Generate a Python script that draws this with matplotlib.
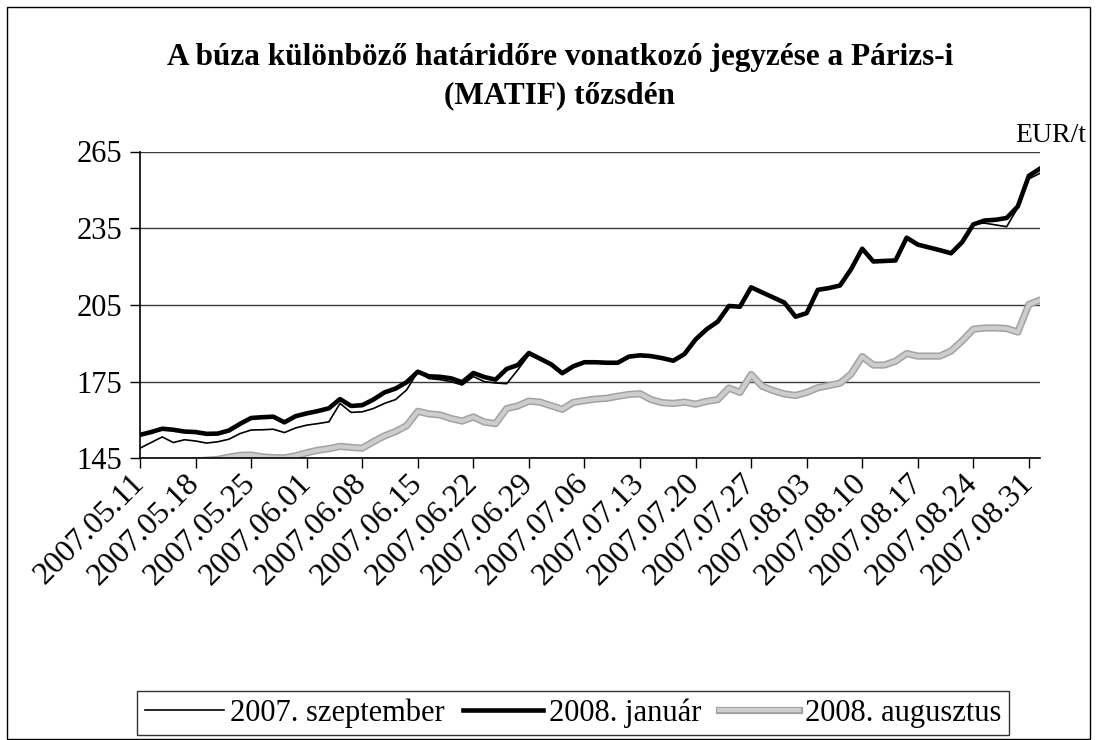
import matplotlib
matplotlib.use('Agg')
import matplotlib.pyplot as plt
from matplotlib.patches import Rectangle
import matplotlib.patheffects as pe
import numpy as np

# ---------------- data ----------------
tick_labels = ['2007.05.11', '2007.05.18', '2007.05.25', '2007.06.01', '2007.06.08',
               '2007.06.15', '2007.06.22', '2007.06.29', '2007.07.06', '2007.07.13',
               '2007.07.20', '2007.07.27', '2007.08.03', '2007.08.10', '2007.08.17',
               '2007.08.24', '2007.08.31']

sep07 = [149.0, 151.2, 153.4, 151.2, 152.3, 151.8, 151.0, 151.5, 152.5, 154.7,
         156.1, 156.2, 156.4, 155.1, 156.9, 158.0, 158.6, 159.3, 166.5, 163.0,
         163.2, 164.5, 166.5, 168.0, 171.8, 178.9, 176.2, 175.8, 175.0, 173.7,
         177.0, 175.0, 174.5, 174.2, 179.6, 185.5, 184.0, 181.8, 178.7, 181.5,
         183.0, 182.8, 182.6, 182.5, 185.0, 185.5, 185.2, 184.4, 183.4, 186.0,
         191.6, 195.6, 198.6, 204.8, 204.5, 212.1, 210.0, 208.0, 206.0, 200.5,
         201.9, 211.0, 211.8, 212.8, 219.2, 227.2, 222.2, 222.4, 222.6, 231.4,
         228.8, 227.6, 226.5, 225.4, 229.8, 236.7, 237.0, 236.3, 235.6, 243.0,
         254.3, 256.5]

jan08 = [154.2, 155.3, 156.6, 156.2, 155.5, 155.3, 154.6, 154.7, 155.9, 158.5,
         160.8, 161.1, 161.3, 159.1, 161.5, 162.6, 163.5, 164.6, 168.2, 165.5,
         165.8, 168.0, 170.8, 172.3, 174.8, 178.9, 177.1, 176.9, 176.3, 174.8,
         178.4, 176.8, 175.8, 180.0, 181.5, 186.2, 184.0, 181.8, 178.3, 181.0,
         182.6, 182.6, 182.4, 182.4, 184.8, 185.3, 185.0, 184.2, 183.2, 185.8,
         191.5, 195.5, 198.5, 204.6, 204.3, 211.9, 209.9, 207.9, 205.9, 200.4,
         201.8, 210.9, 211.6, 212.6, 219.0, 227.0, 222.0, 222.2, 222.4, 231.3,
         228.6, 227.5, 226.4, 225.2, 229.6, 236.5, 238.0, 238.3, 239.0, 243.5,
         255.5, 258.3]

aug08 = [142.5, 143.0, 143.5, 143.0, 143.5, 144.0, 144.3, 144.6, 145.5, 146.2,
         146.3, 145.6, 145.3, 145.2, 146.0, 147.2, 148.2, 148.8, 149.7, 149.3,
         149.0, 151.5, 153.8, 155.5, 157.8, 163.4, 162.4, 162.0, 160.6, 159.6,
         161.2, 159.2, 158.6, 164.5, 165.5, 167.4, 167.0, 165.6, 164.2, 166.9,
         167.6, 168.2, 168.5, 169.3, 170.0, 170.3, 168.0, 166.8, 166.5, 167.0,
         166.2, 167.3, 168.0, 172.5, 170.8, 177.8, 173.2, 171.5, 170.2, 169.6,
         170.8, 172.6, 173.5, 174.4, 178.0, 184.8, 181.5, 181.5, 183.0, 186.0,
         185.0, 185.0, 185.0, 187.0, 191.0, 195.5, 196.0, 196.0, 195.8, 194.4,
         205.2, 206.9]

series_names = ['2007. szeptember', '2008. január', '2008. augusztus']
y_ticks = [145, 175, 205, 235, 265]

title_line1 = 'A búza különböző határidőre vonatkozó jegyzése a Párizs-i'
title_line2 = '(MATIF) tőzsdén'
unit_label = 'EUR/t'

# ---------------- figure ----------------
plt.rcParams['font.family'] = ['Liberation Serif', 'DejaVu Serif']

W, H = 1097, 740
fig = plt.figure(figsize=(W / 100, H / 100), dpi=100)
fig.patch.set_facecolor('white')

# outer chart border
fig.add_artist(Rectangle((7 / W, 1 - 739 / H), (1090 - 7) / W, (739 - 7) / H,
                         transform=fig.transFigure, fill=False,
                         edgecolor='black', linewidth=1.0))

ax = fig.add_axes([140 / W, 1 - 458.4 / H, 900 / W, (458.4 - 151.5) / H])
x = np.arange(len(jan08))

stipple = [pe.Stroke(linewidth=5.2, foreground='#a2a2a2'),
           pe.Stroke(linewidth=3.0, foreground='#cdcdcd')]
h_aug, = ax.plot(x, aug08, color='#b8b8b8', lw=5.2, zorder=2,
                 label=series_names[2], path_effects=stipple)
h_jan, = ax.plot(x, jan08, color='black', lw=3.3, zorder=3, label=series_names[1])
h_sep, = ax.plot(x, sep07, color='black', lw=1.2, zorder=4, label=series_names[0])

ax.set_xlim(0, len(jan08) - 1)
ax.set_ylim(y_ticks[0], y_ticks[-1])
ax.set_yticks(y_ticks)
ax.set_yticklabels([str(v) for v in y_ticks], fontsize=22)
ax.yaxis.grid(True, color='#3a3a3a', lw=1.0)
ax.set_axisbelow(True)

ax.set_xticks(np.arange(0, len(jan08), 5))
ax.set_xticklabels(tick_labels, rotation=45, ha='right', va='center',
                   rotation_mode='anchor', fontsize=23)
ax.tick_params(axis='x', direction='out', length=7, width=1.0, pad=8)
ax.tick_params(axis='y', direction='out', length=7, width=1.0, pad=6)

for s in ['top', 'right']:
    ax.spines[s].set_visible(False)
for s in ['left', 'bottom']:
    ax.spines[s].set_color('black')
    ax.spines[s].set_linewidth(1.2)

fig.text(560 / W, 1 - 58 / H, title_line1, ha='center', va='center',
         fontsize=22.5, fontweight='bold')
fig.text(560 / W, 1 - 96 / H, title_line2, ha='center', va='center',
         fontsize=22.5, fontweight='bold')
fig.text(1086 / W, 1 - 135 / H, unit_label, ha='right', va='center', fontsize=20)

leg = fig.legend(handles=[h_sep, h_jan, h_aug], labels=series_names,
                 loc='center', bbox_to_anchor=(573 / W, 1 - 713 / H), ncol=3,
                 fontsize=22, frameon=True, fancybox=False, edgecolor='black',
                 handlelength=2.6, handletextpad=0.2, columnspacing=0.6,
                 borderpad=0.25, borderaxespad=0)
leg.get_frame().set_linewidth(1.0)

fig.savefig('out.png', dpi=100, facecolor='white')
